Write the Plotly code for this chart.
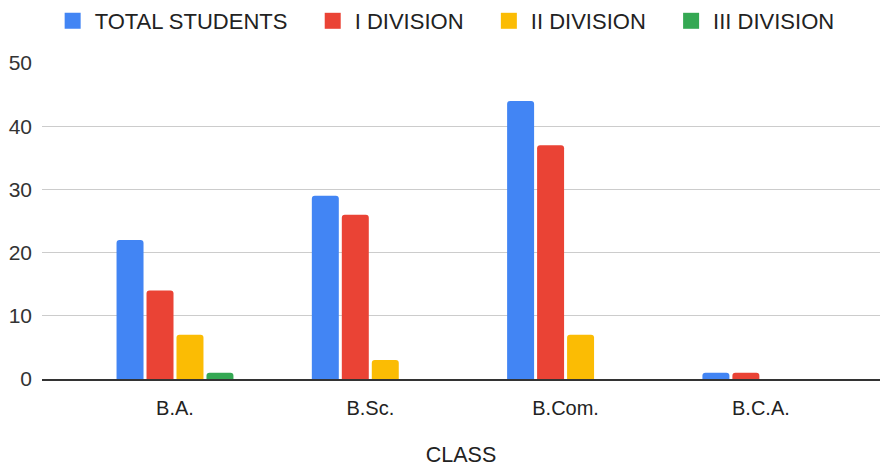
import plotly.graph_objects as go

categories = ["B.A.", "B.Sc.", "B.Com.", "B.C.A."]
total_students = [22, 29, 44, 1]
division_1 = [14, 26, 37, 1]
division_2 = [7, 3, 7, 0]
division_3 = [1, 0, 0, 0]

series = [
    ("TOTAL STUDENTS", total_students, "#4285F4"),
    ("I DIVISION", division_1, "#EA4335"),
    ("II DIVISION", division_2, "#FBBC04"),
    ("III DIVISION", division_3, "#34A853"),
]

PAD = "\u00a0" * 3

fig = go.Figure()
for name, vals, color in series:
    fig.add_trace(go.Bar(
        x=categories, y=vals, name=name, legendgroup=name, showlegend=False,
        marker=dict(color=color, cornerradius=3, line=dict(width=0)),
    ))
for name, vals, color in series:
    fig.add_trace(go.Scatter(
        x=[None], y=[None], mode="markers", name=name + PAD, legendgroup=name,
        marker=dict(symbol="square", size=16, color=color),
        hoverinfo="skip",
    ))

fig.update_layout(
    width=881, height=467,
    margin=dict(l=42, r=1, t=63, b=88),
    paper_bgcolor="white", plot_bgcolor="white",
    font=dict(family="Arial, 'Liberation Sans', sans-serif", size=20, color="#444444"),
    barmode="group", bargap=0.386, bargroupgap=0.1,
    legend=dict(orientation="h", x=0.5155, xanchor="center", xref="container",
                y=1.0, yanchor="top", yref="container",
                font=dict(size=22, color="#222222"),
                itemwidth=34, traceorder="normal", itemclick=False),
    showlegend=True,
)

fig.update_xaxes(
    range=[-0.681, 3.610], showgrid=False, automargin=False,
    showline=True, linecolor="#333333", linewidth=1.5,
    ticks="", ticklabelstandoff=10, tickfont=dict(size=20, color="#222222"),
    title=dict(text="CLASS", font=dict(size=21.5, color="#222222"), standoff=31),
)
fig.update_yaxes(
    range=[0, 50], dtick=10, showgrid=True, gridcolor="#cccccc", gridwidth=1,
    zeroline=False, showline=False, ticks="", automargin=False,
    ticklabelstandoff=9, tickfont=dict(size=21, color="#333333"),
)

fig.write_html("out.html", config={"displayModeBar": False},
               post_script="document.body.style.margin='0';")
